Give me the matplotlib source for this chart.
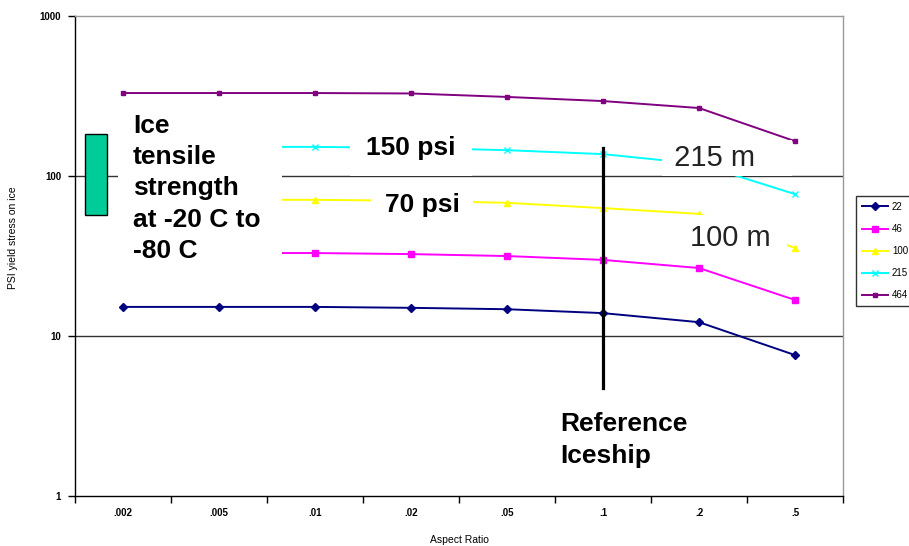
import matplotlib
matplotlib.use("Agg")
import matplotlib.pyplot as plt
from matplotlib.patches import Rectangle

plt.rcParams['font.family'] = ['Liberation Sans', 'DejaVu Sans']

categories = ['.002', '.005', '.01', '.02', '.05', '.1', '.2', '.5']
series_names = ['22', '46', '100', '215', '464']
s22 = [15.2, 15.2, 15.2, 15.0, 14.7, 13.9, 12.2, 7.6]
s46 = [33.0, 33.0, 33.0, 32.5, 31.6, 29.9, 26.6, 16.8]
s100 = [71.0, 71.0, 71.0, 70.0, 68.0, 63.0, 58.0, 35.5]
s215 = [152.0, 152.0, 152.0, 150.0, 145.0, 137.0, 119.0, 77.0]
s464 = [330.0, 330.0, 330.0, 328.0, 312.0, 294.0, 266.0, 165.0]
ice_strength_range = [57.0, 183.0]
reference_ratio_index = 5
reference_line_range = [4.73, 150.0]

series = [s22, s46, s100, s215, s464]
colors = ['#000080', '#FF00FF', '#FFFF00', '#00FFFF', '#800080']
markers = ['D', 's', '^', 'x', 's']
msizes = [4, 4, 5, 4, 3.5]

fig = plt.figure(figsize=(9.09, 5.46), dpi=100)
ax = fig.add_axes([75/909, 1-496/546, (843-75)/909, (496-16)/546])

x = list(range(len(categories)))
for vals, c, m, ms, name in zip(series, colors, markers, msizes, series_names):
    ax.plot(x, vals, color=c, marker=m, markersize=ms, linewidth=1.4,
            markeredgecolor=c, markerfacecolor=c, label=name, zorder=2)

ax.set_yscale('log')
ax.set_ylim(1, 1000)
ax.set_xlim(-0.5, len(categories)-0.5)

for g in [10, 100]:
    ax.axhline(g, color='#333333', linewidth=1.0, zorder=1)

# ticks
ax.set_xticks([i-0.5 for i in range(len(categories)+1)])
ax.set_xticklabels([])
ax.set_xticks(x, minor=True)
ax.set_xticklabels(categories, minor=True, fontsize=7, fontweight='bold')
ax.tick_params(axis='x', which='major', direction='out', length=5, width=1, color='black')
ax.tick_params(axis='x', which='minor', length=0, pad=9)
ax.set_yticks([1, 10, 100, 1000])
ax.set_yticklabels(['1', '10', '100', '1000'], fontsize=7, fontweight='bold')
ax.yaxis.set_minor_locator(matplotlib.ticker.NullLocator())
ax.tick_params(axis='y', which='major', direction='out', length=5, width=1, color='black', pad=5)

for side in ['left', 'bottom']:
    ax.spines[side].set_color('black')
    ax.spines[side].set_linewidth(1.0)
for side in ['top', 'right']:
    ax.spines[side].set_color('#999999')
    ax.spines[side].set_linewidth(1.0)

ax.set_xlabel('Aspect Ratio', fontsize=7.5, labelpad=12)
ax.set_ylabel('PSI yield stress on ice', fontsize=7.5)
ax.yaxis.set_label_coords(-0.074, 0.5375)

# ice tensile strength box
ax.add_patch(Rectangle((-0.396, ice_strength_range[0]), 0.229,
                       ice_strength_range[1]-ice_strength_range[0],
                       facecolor='#00CC99', edgecolor='black', linewidth=1.0, zorder=2.5))

# reference iceship line
ax.plot([reference_ratio_index]*2, reference_line_range, color='black', linewidth=2.3, zorder=4)

bold = dict(fontsize=19, fontweight='bold', color='black')
ax.text(0.104, 244, 'Ice\ntensile\nstrength\nat -20 C to \n-80 C', ha='left', va='top',
        linespacing=1.38, zorder=3,
        bbox=dict(boxstyle='square,pad=0.55', facecolor='white', edgecolor='none'), **bold)
ax.text(3.0, 150, '150 psi', ha='center', va='center', zorder=3,
        bbox=dict(boxstyle='square,pad=0.6', facecolor='white', edgecolor='none'), **bold)
ax.text(3.115, 65.9, '70 psi', ha='center', va='center', zorder=3,
        bbox=dict(boxstyle='square,pad=0.5', facecolor='white', edgecolor='none'), **bold)
ax.text(5.66, 129.6, ' 215 m    ', ha='left', va='center', fontsize=21, color='#222222', zorder=3,
        bbox=dict(boxstyle='square,pad=0.15', facecolor='white', edgecolor='none'))
ax.text(5.906, 41.0, '100 m ', ha='left', va='center', fontsize=21, color='#222222', zorder=3,
        bbox=dict(boxstyle='square,pad=0.3', facecolor='white', edgecolor='none'))
ax.text(4.552, 3.35, 'Reference\nIceship', ha='left', va='top', linespacing=1.4, zorder=3, **bold)

leg = fig.legend(loc='upper left', bbox_to_anchor=(856/909, 1-196/546), borderaxespad=0,
                 fontsize=7, frameon=True, fancybox=False, edgecolor='black',
                 handlelength=2.7, labelspacing=1.25, borderpad=0.6, handletextpad=0.4)
leg.get_frame().set_linewidth(1.0)

fig.savefig('out.png', dpi=100)
